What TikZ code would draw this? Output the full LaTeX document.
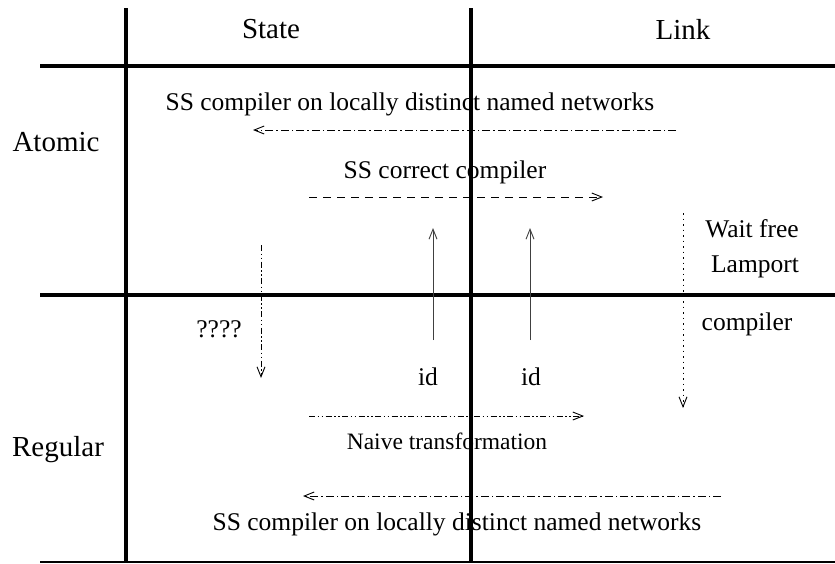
\documentclass[tikz,border=0pt]{standalone}
\usepackage{fontspec}
\setmainfont{Liberation Serif}
\usetikzlibrary{arrows.meta}
\begin{document}
\begin{tikzpicture}[x=1pt,y=-1pt,
  grid/.style={line width=3.5pt},
  thin grid/.style={line width=1.5pt},
  head/.style={font=\fontsize{29}{33}\selectfont, inner sep=0pt},
  lbl/.style={font=\fontsize{25.5}{29}\selectfont, inner sep=0pt},
  small lbl/.style={font=\fontsize{23.5}{27}\selectfont, inner sep=0pt},
  arr/.style={line width=0.9pt, -{Straight Barb[length=10pt,width=8pt,line width=0.9pt]}},
  dashdot/.style={dash pattern=on 8pt off 3pt on 1.5pt off 3pt},
  dashdotdot/.style={dash pattern=on 6pt off 2.5pt on 1.5pt off 2.5pt on 1.5pt off 2.5pt},
  mydashed/.style={dash pattern=on 8pt off 6pt},
  mydotted/.style={dash pattern=on 1.5pt off 4pt}]
\useasboundingbox (0,0) rectangle (835,563);
% grid
\draw[grid] (126,8) -- (126,563);
\draw[grid] (471,8) -- (471,563);
\draw[grid] (40,66) -- (835,66);
\draw[grid] (40,295) -- (835,295);
\draw[thin grid] (40,562) -- (835,562);
% headings
\node[head] (state) at (271,29) {State};
\node[head] (link) at (683,29) {Link};
\node[head] (atomic) at (56,142) {Atomic};
\node[head] (regular) at (58,450) {Regular};
% top
\node[lbl] (t1) at (410,104) {SS compiler on locally distinct named networks};
\coordinate (a1s) at (676,130); \coordinate (a1e) at (253,130);
\draw[arr,dashdot] (a1s) -- (a1e);
\node[lbl] (t2) at (445,172) {SS correct compiler};
\coordinate (a2s) at (309,197); \coordinate (a2e) at (603,197);
\draw[arr,mydashed] (a2s) -- (a2e);
% right
\node[lbl] (wf) at (752,229) {Wait free};
\node[lbl] (lp) at (755,267) {Lamport};
\node[lbl] (cp) at (747,324) {compiler};
\coordinate (a3s) at (683,213); \coordinate (a3e) at (683,408);
\draw[arr,mydotted] (a3s) -- (a3e);
% left vertical
\coordinate (a4s) at (261,245); \coordinate (a4e) at (261,378);
\draw[arr,dashdotdot] (a4s) -- (a4e);
\node[lbl] (q) at (219,329) {????};
% id arrows
\coordinate (a5s) at (433,340); \coordinate (a5e) at (433,228);
\draw[arr,black!75] (a5s) -- (a5e);
\coordinate (a6s) at (530,340); \coordinate (a6e) at (530,228);
\draw[arr,black!75] (a6s) -- (a6e);
\node[lbl] (id1) at (428,377) {id};
\node[lbl] (id2) at (531,377) {id};
% naive
\coordinate (a7s) at (309,416); \coordinate (a7e) at (584,416);
\draw[arr,dashdotdot] (a7s) -- (a7e);
\node[small lbl] (nt) at (447,441) {Naive transformation};
% bottom
\coordinate (a8s) at (721,496); \coordinate (a8e) at (303,496);
\draw[arr,dashdot] (a8s) -- (a8e);
\node[lbl] (t3) at (457,524) {SS compiler on locally distinct named networks};
\end{tikzpicture}
\end{document}
